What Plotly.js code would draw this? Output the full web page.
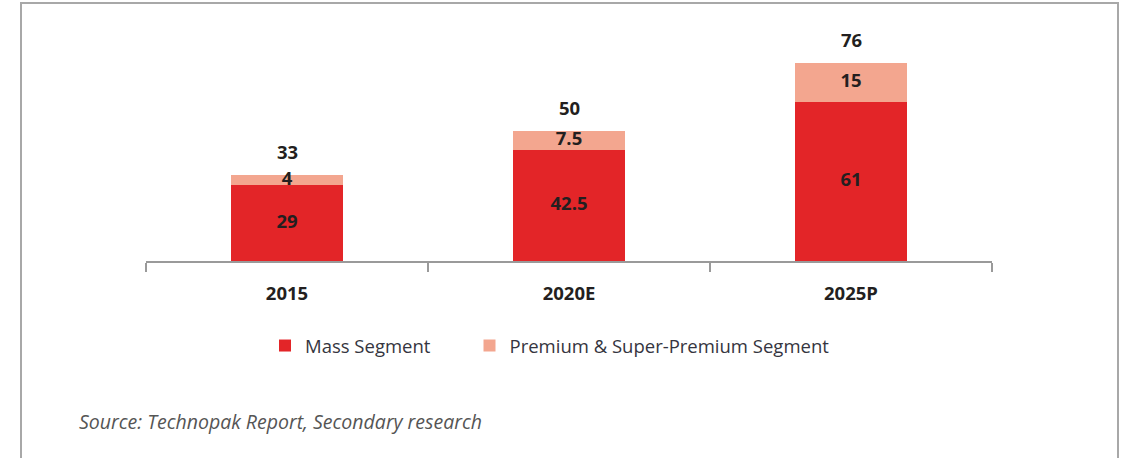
<!DOCTYPE html>
<html>
<head>
<meta charset="utf-8">
<script src="https://cdn.plot.ly/plotly-3.0.1.min.js"></script>
<style>
  html, body { margin: 0; padding: 0; background: #ffffff; }
  #chart { width: 1127px; height: 458px; }
</style>
</head>
<body>
<div id="chart"></div>
<script>
const categories = ["2015", "2020E", "2025P"];
const massSegment = [29, 42.5, 61];
const premiumSegment = [4, 7.5, 15];
const massLabels = ["29", "42.5", "61"];
const premiumLabels = ["4", "7.5", "15"];
const totalLabels = ["33", "50", "76"];
const seriesNames = ["Mass Segment", "Premium & Super-Premium Segment"];
const sourceText = "Source: Technopak Report, Secondary research";

const W = 1127, H = 458;
const mL = 146, mR = 135, mT = 20, mB = 197;
const plotW = W - mL - mR, plotH = H - mT - mB;
const px2x = p => (p - mL) / plotW;
const px2y = p => (H - mB - p) / plotH;

const FAM = "'Open Sans', Lato, sans-serif";
const numFont = { family: FAM, size: 18.5, color: "#231f20", weight: 700 };

const traces = [
  {
    type: "bar", name: seriesNames[0], x: categories, y: massSegment,
    marker: { color: "#e32528" }, width: 0.4, hoverinfo: "skip", legend: "legend"
  },
  {
    type: "bar", name: seriesNames[1], x: categories, y: premiumSegment,
    marker: { color: "#f3a68f" }, width: 0.4, hoverinfo: "skip", legend: "legend2"
  },
  {
    type: "scatter", mode: "text", showlegend: false, hoverinfo: "skip",
    x: categories.concat(categories),
    y: massSegment.map(v => v / 2).concat(massSegment.map((v, i) => v + premiumSegment[i] / 2)),
    text: massLabels.concat(premiumLabels),
    textposition: "middle center", textfont: numFont, cliponaxis: false
  }
];

const annotations = categories.map((c, i) => ({
  x: i, y: massSegment[i] + premiumSegment[i], xref: "x", yref: "y",
  text: totalLabels[i], showarrow: false, yanchor: "bottom", yshift: 9,
  font: numFont
}));
annotations.push({
  xref: "paper", yref: "paper", x: px2x(77), y: px2y(421.5),
  xanchor: "left", yanchor: "middle", showarrow: false,
  text: "<i>" + sourceText + "</i>",
  font: { family: FAM, size: 19.5, color: "#555555" }
});

const legendFont = { family: FAM, size: 18.5, color: "#353540" };

const layout = {
  width: W, height: H,
  margin: { l: mL, r: mR, t: mT, b: mB },
  paper_bgcolor: "#ffffff", plot_bgcolor: "#ffffff",
  barmode: "stack",
  showlegend: true,
  legend: {
    orientation: "h", x: px2x(265), xanchor: "left", y: px2y(346), yanchor: "middle",
    font: legendFont, bgcolor: "rgba(0,0,0,0)"
  },
  legend2: {
    orientation: "h", x: px2x(469.5), xanchor: "left", y: px2y(346), yanchor: "middle",
    font: legendFont, bgcolor: "rgba(0,0,0,0)"
  },
  xaxis: {
    type: "category", range: [-0.5, 2.5],
    showline: true, linecolor: "#9a9a9a", linewidth: 1.5,
    ticks: "outside", tickson: "boundaries", ticklen: 9, tickcolor: "#9a9a9a", tickwidth: 1.5,
    showgrid: false, zeroline: false,
    tickfont: numFont, ticklabelstandoff: 15, fixedrange: true
  },
  yaxis: {
    range: [0, plotH / 2.61], visible: false, showgrid: false, zeroline: false, fixedrange: true
  },
  annotations: annotations,
  shapes: [{
    type: "path", xref: "paper", yref: "paper",
    path: `M ${px2x(21)} ${px2y(500)} L ${px2x(21)} ${px2y(3)} L ${px2x(1118)} ${px2y(3)} L ${px2x(1118)} ${px2y(500)}`,
    line: { color: "#a8a8a8", width: 2 }
  }]
};

Plotly.newPlot("chart", traces, layout, { displayModeBar: false, staticPlot: true });
</script>
</body>
</html>
